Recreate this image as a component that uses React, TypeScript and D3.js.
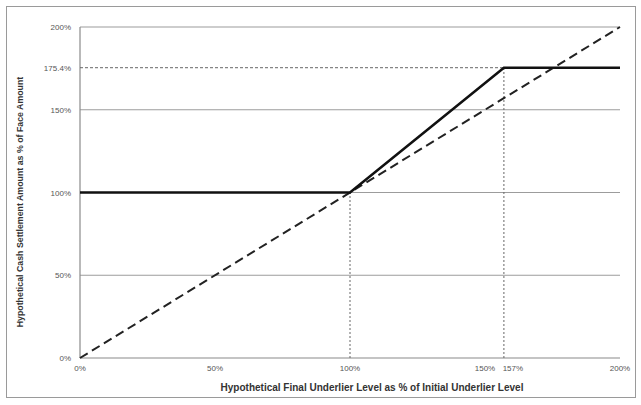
import React from 'react';
import * as d3 from 'd3';

const xTicks = [0, 50, 100, 150, 200];
const yTicks = [0, 50, 100, 150, 200];
const capLevel = 175.4;
const kneeX = 157;
const payoff = [
  { x: 0, y: 100 },
  { x: 100, y: 100 },
  { x: 157, y: 175.4 },
  { x: 200, y: 175.4 },
];
const underlier = [
  { x: 0, y: 0 },
  { x: 200, y: 200 },
];

const App: React.FC = () => {
  const width = 641;
  const height = 405;
  const x = d3.scaleLinear().domain([0, 200]).range([80, 620]);
  const y = d3.scaleLinear().domain([0, 200]).range([358, 27]);
  const line = d3.line<{ x: number; y: number }>().x(d => x(d.x)).y(d => y(d.y));
  const font = '"Liberation Sans", Arial, sans-serif';

  return (
    <svg width={width} height={height} style={{ position: 'absolute', left: 0, top: 0 }}>
      <rect x={0} y={0} width={width} height={height} fill="#fff" />
      <rect x={6.5} y={6.5} width={629} height={391} fill="none" stroke="#9a9a9a" strokeWidth={1} />

      {/* gridlines */}
      {yTicks.filter(t => t > 0).map(t => (
        <line key={t} x1={x(0)} x2={x(200)} y1={y(t)} y2={y(t)} stroke="#9c9c9c" strokeWidth={1.2} />
      ))}

      {/* axes */}
      <line x1={x(0)} x2={x(0)} y1={y(0)} y2={y(200)} stroke="#8a8a8a" strokeWidth={1.2} />
      <line x1={x(0)} x2={x(200)} y1={y(0)} y2={y(0)} stroke="#8a8a8a" strokeWidth={1.2} />

      {/* reference lines */}
      <line x1={x(0)} x2={x(kneeX)} y1={y(capLevel)} y2={y(capLevel)} stroke="#666" strokeWidth={1} strokeDasharray="3,2" />
      <line x1={x(100)} x2={x(100)} y1={y(0)} y2={y(100)} stroke="#666" strokeWidth={1} strokeDasharray="2,2" />
      <line x1={x(kneeX)} x2={x(kneeX)} y1={y(0)} y2={y(capLevel)} stroke="#666" strokeWidth={1} strokeDasharray="2,2" />

      <path d={line(underlier) ?? ''} fill="none" stroke="#222" strokeWidth={2} strokeDasharray="9,5" />
      <path d={line(payoff) ?? ''} fill="none" stroke="#111" strokeWidth={2.6} />

      {/* y tick labels */}
      <g fontFamily={font} fontSize={8} fill="#555" textAnchor="end">
        {yTicks.map(t => (
          <text key={t} x={71} y={y(t) + 3}>{`${t}%`}</text>
        ))}
        <text x={71} y={y(capLevel) + 3}>{`${capLevel}%`}</text>
      </g>

      {/* x tick labels */}
      <g fontFamily={font} fontSize={8} fill="#555" textAnchor="middle">
        {xTicks.map(t => (
          <text key={t} x={x(t)} y={371}>{`${t}%`}</text>
        ))}
        <text x={x(kneeX) + 9} y={371}>{`${kneeX}%`}</text>
      </g>

      {/* axis titles */}
      <text x={372} y={391} textAnchor="middle" fontFamily={font} fontSize={10} fontWeight="bold" fill="#333">
        Hypothetical Final Underlier Level as % of Initial Underlier Level
      </text>
      <text
        transform={`translate(23,${202}) rotate(-90)`}
        textAnchor="middle"
        fontFamily={font}
        fontSize={8.8}
        fontWeight="bold"
        fill="#333"
      >
        Hypothetical Cash Settlement Amount as % of Face Amount
      </text>
    </svg>
  );
};

export default App;
